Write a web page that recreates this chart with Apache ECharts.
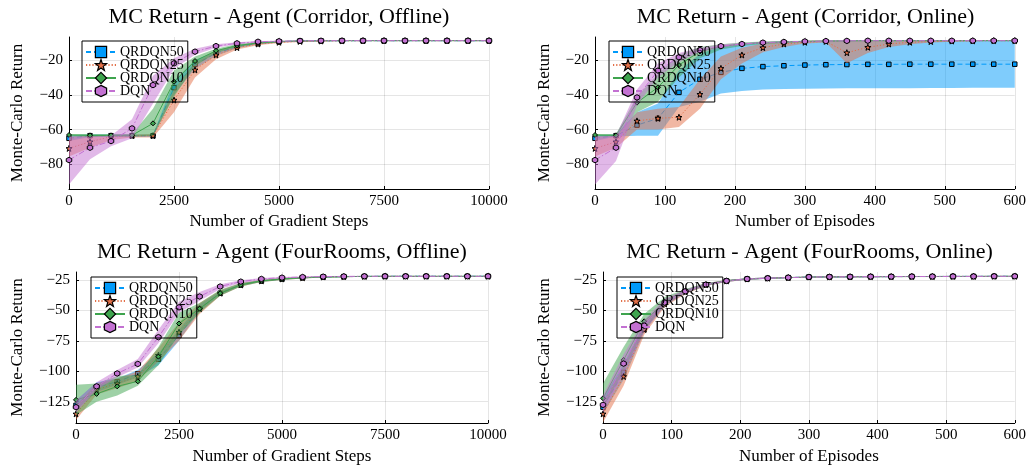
<!DOCTYPE html>
<html>
<head>
<meta charset="utf-8">
<script src="https://cdn.jsdelivr.net/npm/echarts@6/dist/echarts.min.js"></script>
<style>html,body{margin:0;padding:0;background:#fff}#c{width:1029px;height:466px}</style>
</head>
<body>
<div id="c"></div>
<script>
// ---------------- DATA ----------------
const seriesNames = ['QRDQN50', 'QRDQN25', 'QRDQN10', 'DQN'];
const titles = ['MC Return - Agent (Corridor, Offline)', 'MC Return - Agent (Corridor, Online)',
                'MC Return - Agent (FourRooms, Offline)', 'MC Return - Agent (FourRooms, Online)'];
const xNames = ['Number of Gradient Steps', 'Number of Episodes', 'Number of Gradient Steps', 'Number of Episodes'];
const yName = 'Monte-Carlo Return';

const steps = [0,500,1000,1500,2000,2500,3000,3500,4000,4500,5000,5500,6000,6500,7000,7500,8000,8500,9000,9500,10000];
const episodes = [0,30,60,90,120,150,180,210,240,270,300,330,360,390,420,450,480,510,540,570,600];
const corridorYTicks = [-80, -60, -40, -20];
const fourRoomsYTicks = [-125, -100, -75, -50, -25];

// Corridor, Offline
const corOff_q50    = [-65.0,-63.5,-63.5,-63.5,-63.5,-35.9,-22.5,-16.2,-12.3,-10.5,-9.5,-9.1,-9.0,-8.9,-8.9,-8.9,-8.9,-8.9,-8.9,-8.9,-8.9];
const corOff_q50_lo = [-66.5,-64.3,-64.2,-64.2,-64.3,-40.0,-25.0,-17.5,-13.2,-11.0,-9.9,-9.4,-9.2,-9.1,-9.0,-9.0,-9.0,-9.0,-9.0,-9.0,-9.0];
const corOff_q50_hi = [-63.2,-62.8,-62.8,-62.8,-62.8,-32.0,-20.0,-15.0,-11.5,-10.0,-9.2,-8.9,-8.8,-8.7,-8.7,-8.7,-8.7,-8.7,-8.7,-8.7,-8.7];
const corOff_q25    = [-70.8,-67.0,-64.0,-63.5,-63.5,-43.0,-25.7,-17.1,-12.9,-10.8,-9.8,-9.3,-9.1,-9.0,-8.9,-8.9,-8.9,-8.9,-8.9,-8.9,-8.9];
const corOff_q25_lo = [-75.5,-70.5,-66.0,-64.5,-64.5,-50.0,-30.0,-19.5,-14.0,-11.5,-10.3,-9.6,-9.3,-9.1,-9.0,-9.0,-9.0,-9.0,-9.0,-9.0,-9.0];
const corOff_q25_hi = [-64.0,-63.5,-63.0,-62.8,-62.5,-37.0,-21.5,-14.5,-11.5,-9.9,-9.3,-9.0,-8.8,-8.7,-8.7,-8.7,-8.7,-8.7,-8.7,-8.7,-8.7];
const corOff_q10    = [-63.1,-63.3,-63.3,-63.3,-56.4,-32.5,-20.6,-14.7,-11.7,-10.2,-9.4,-9.0,-8.9,-8.9,-8.9,-8.9,-8.9,-8.9,-8.9,-8.9,-8.9];
const corOff_q10_lo = [-64.0,-64.0,-64.0,-64.0,-63.5,-41.0,-23.5,-16.0,-12.5,-10.7,-9.7,-9.2,-9.0,-8.9,-8.9,-8.9,-8.9,-8.9,-8.9,-8.9,-8.9];
const corOff_q10_hi = [-62.5,-62.5,-62.5,-62.5,-48.0,-26.0,-18.0,-13.5,-10.8,-9.7,-9.1,-8.8,-8.7,-8.7,-8.7,-8.7,-8.7,-8.7,-8.7,-8.7,-8.7];
const corOff_dqn    = [-77.5,-70.4,-66.6,-59.3,-34.4,-21.9,-15.2,-12.0,-10.4,-9.5,-9.2,-9.0,-8.9,-8.9,-8.9,-8.9,-8.9,-8.9,-8.9,-8.9,-8.9];
const corOff_dqn_lo = [-91.5,-77.0,-69.5,-65.0,-45.0,-25.0,-17.0,-13.0,-11.0,-9.9,-9.5,-9.2,-9.0,-8.9,-8.9,-8.9,-8.9,-8.9,-8.9,-8.9,-8.9];
const corOff_dqn_hi = [-64.0,-64.0,-63.5,-54.0,-29.0,-19.0,-13.5,-11.0,-9.8,-9.1,-8.9,-8.8,-8.7,-8.7,-8.7,-8.7,-8.7,-8.7,-8.7,-8.7,-8.7];

// Corridor, Online
const corOn_q50    = [-65.0,-63.5,-57.4,-53.6,-38.6,-31.1,-27.1,-24.8,-23.8,-23.3,-22.9,-22.7,-22.6,-22.5,-22.5,-22.4,-22.4,-22.4,-22.4,-22.4,-22.4];
const corOn_q50_lo = [-66.5,-64.0,-63.5,-63.5,-47.0,-44.0,-39.2,-37.8,-37.0,-36.7,-36.5,-36.4,-36.3,-36.3,-36.2,-36.2,-36.1,-36.1,-36.0,-36.0,-36.0];
const corOn_q50_hi = [-63.2,-62.8,-50.0,-45.0,-26.0,-16.5,-12.0,-10.5,-9.8,-9.3,-9.0,-8.9,-8.8,-8.8,-8.7,-8.7,-8.7,-8.7,-8.7,-8.7,-8.7];
const corOn_q25    = [-70.8,-67.0,-55.0,-53.5,-52.9,-39.7,-24.8,-17.1,-12.9,-10.8,-9.8,-9.3,-15.8,-12.7,-10.8,-9.8,-9.4,-9.1,-9.0,-8.9,-8.9];
const corOn_q25_lo = [-75.5,-70.5,-60.0,-60.0,-58.5,-48.0,-31.0,-22.0,-15.5,-12.5,-10.5,-10.0,-21.8,-16.0,-12.5,-11.0,-10.0,-9.5,-9.2,-9.0,-9.0];
const corOn_q25_hi = [-64.0,-63.5,-50.0,-48.0,-47.0,-31.0,-18.0,-13.0,-10.5,-9.5,-9.0,-8.8,-9.0,-9.0,-9.0,-8.9,-8.8,-8.7,-8.7,-8.7,-8.7];
const corOn_q10    = [-63.1,-63.3,-44.5,-35.7,-22.9,-15.1,-12.2,-10.8,-10.0,-9.6,-9.3,-9.1,-9.0,-8.9,-8.9,-8.9,-8.9,-8.9,-8.9,-8.9,-8.9];
const corOn_q10_lo = [-64.0,-64.0,-50.0,-44.0,-30.0,-19.0,-14.0,-12.0,-10.8,-10.2,-9.7,-9.4,-9.2,-9.0,-9.0,-9.0,-9.0,-9.0,-9.0,-9.0,-9.0];
const corOn_q10_hi = [-62.5,-62.5,-41.0,-28.0,-17.0,-12.5,-11.0,-10.0,-9.4,-9.1,-8.9,-8.8,-8.7,-8.7,-8.7,-8.7,-8.7,-8.7,-8.7,-8.7,-8.7];
const corOn_dqn    = [-77.5,-70.4,-41.5,-26.1,-18.4,-14.3,-12.0,-10.8,-10.0,-9.6,-9.3,-9.1,-9.0,-8.9,-8.9,-8.9,-8.9,-8.9,-8.9,-8.9,-8.9];
const corOn_dqn_lo = [-91.5,-78.0,-46.0,-30.0,-21.0,-15.5,-13.0,-11.3,-10.4,-9.9,-9.5,-9.3,-9.1,-9.0,-9.0,-9.0,-9.0,-9.0,-9.0,-9.0,-9.0];
const corOn_dqn_hi = [-64.0,-63.5,-37.0,-22.0,-16.0,-13.0,-11.0,-10.3,-9.6,-9.3,-9.1,-8.9,-8.8,-8.8,-8.8,-8.8,-8.8,-8.8,-8.8,-8.8,-8.8];

// FourRooms, Offline
const frOff_q50    = [-128.0,-113.0,-108.6,-102.1,-90.1,-70.6,-48.6,-35.9,-29.1,-25.8,-24.2,-23.2,-22.6,-22.3,-22.1,-22.0,-22.0,-22.0,-22.0,-22.0,-22.0];
const frOff_q50_lo = [-132.0,-117.0,-111.0,-105.0,-95.0,-75.0,-51.0,-37.5,-30.0,-26.5,-24.8,-23.7,-23.0,-22.6,-22.4,-22.3,-22.3,-22.3,-22.3,-22.3,-22.3];
const frOff_q50_hi = [-124.0,-109.0,-106.0,-99.0,-85.0,-66.0,-45.0,-34.0,-28.0,-25.0,-23.6,-22.7,-22.2,-21.9,-21.8,-21.7,-21.7,-21.7,-21.7,-21.7,-21.7];
const frOff_q25    = [-135.0,-115.0,-110.0,-104.3,-86.9,-67.9,-48.6,-35.9,-29.1,-25.8,-24.2,-23.2,-22.6,-22.3,-22.1,-22.0,-22.0,-22.0,-22.0,-22.0,-22.0];
const frOff_q25_lo = [-140.0,-119.0,-114.0,-108.0,-92.0,-75.0,-53.0,-38.0,-30.5,-26.8,-25.0,-23.8,-23.1,-22.7,-22.4,-22.3,-22.3,-22.3,-22.3,-22.3,-22.3];
const frOff_q25_hi = [-128.0,-110.0,-106.0,-100.0,-81.0,-60.0,-44.0,-33.5,-27.5,-24.8,-23.5,-22.6,-22.1,-21.9,-21.8,-21.7,-21.7,-21.7,-21.7,-21.7,-21.7];
const frOff_q10    = [-123.5,-118.6,-112.4,-108.3,-88.0,-60.8,-48.6,-35.9,-29.1,-25.8,-24.2,-23.2,-22.6,-22.3,-22.1,-22.0,-22.0,-22.0,-22.0,-22.0,-22.0];
const frOff_q10_lo = [-136.0,-125.0,-120.0,-112.0,-95.0,-70.0,-52.0,-38.0,-30.5,-26.8,-25.0,-23.8,-23.1,-22.7,-22.4,-22.3,-22.3,-22.3,-22.3,-22.3,-22.3];
const frOff_q10_hi = [-111.0,-110.0,-104.0,-103.0,-80.0,-52.0,-44.0,-33.0,-27.5,-25.0,-23.5,-22.6,-22.1,-21.9,-21.8,-21.7,-21.7,-21.7,-21.7,-21.7,-21.7];
const frOff_dqn    = [-129.5,-112.4,-101.8,-94.0,-72.0,-47.5,-38.6,-30.4,-26.4,-24.2,-23.1,-22.6,-22.3,-22.1,-22.0,-22.0,-22.0,-22.0,-22.0,-22.0,-22.0];
const frOff_dqn_lo = [-134.0,-115.0,-105.0,-97.0,-77.0,-52.0,-42.0,-32.5,-27.5,-25.0,-23.7,-23.0,-22.6,-22.3,-22.2,-22.2,-22.2,-22.2,-22.2,-22.2,-22.2];
const frOff_dqn_hi = [-124.0,-109.0,-99.0,-90.0,-66.0,-43.0,-35.0,-28.5,-25.3,-23.4,-22.5,-22.2,-22.0,-21.9,-21.8,-21.8,-21.8,-21.8,-21.8,-21.8,-21.8];

// FourRooms, Online
const frOn_q50    = [-129.5,-101.0,-65.7,-44.0,-34.5,-28.9,-25.8,-24.2,-23.6,-23.1,-22.6,-22.5,-22.4,-22.3,-22.3,-22.2,-22.2,-22.1,-22.1,-22.0,-22.0];
const frOn_q50_lo = [-135.0,-107.0,-68.0,-46.0,-35.5,-29.8,-26.5,-24.8,-24.1,-23.5,-23.0,-22.9,-22.8,-22.7,-22.6,-22.5,-22.5,-22.4,-22.4,-22.3,-22.3];
const frOn_q50_hi = [-122.0,-94.0,-61.0,-41.5,-33.0,-28.0,-25.2,-23.7,-23.1,-22.7,-22.3,-22.2,-22.1,-22.0,-21.9,-21.9,-21.9,-21.8,-21.8,-21.7,-21.7];
const frOn_q25    = [-135.0,-104.3,-65.7,-44.8,-34.8,-29.0,-25.8,-24.2,-23.6,-23.1,-22.6,-22.5,-22.4,-22.3,-22.3,-22.2,-22.2,-22.1,-22.1,-22.0,-22.0];
const frOn_q25_lo = [-142.0,-112.0,-70.0,-47.0,-36.5,-30.0,-26.6,-24.9,-24.1,-23.5,-23.0,-22.9,-22.8,-22.7,-22.6,-22.5,-22.5,-22.4,-22.4,-22.3,-22.3];
const frOn_q25_hi = [-125.0,-96.0,-60.0,-41.0,-33.0,-27.8,-25.1,-23.7,-23.1,-22.7,-22.3,-22.2,-22.1,-22.0,-21.9,-21.9,-21.9,-21.8,-21.8,-21.7,-21.7];
const frOn_q10    = [-122.2,-90.7,-59.0,-43.0,-34.2,-28.7,-25.7,-24.2,-23.6,-23.1,-22.6,-22.5,-22.4,-22.3,-22.3,-22.2,-22.2,-22.1,-22.1,-22.0,-22.0];
const frOn_q10_lo = [-130.0,-100.0,-66.0,-46.0,-36.0,-30.0,-26.5,-24.8,-24.1,-23.5,-23.0,-22.9,-22.8,-22.7,-22.6,-22.5,-22.5,-22.4,-22.4,-22.3,-22.3];
const frOn_q10_hi = [-110.0,-80.0,-53.0,-39.0,-32.5,-27.5,-25.0,-23.7,-23.1,-22.7,-22.3,-22.2,-22.1,-22.0,-21.9,-21.9,-21.9,-21.8,-21.8,-21.7,-21.7];
const frOn_dqn    = [-127.6,-93.7,-62.5,-43.6,-34.3,-28.8,-25.8,-24.2,-23.6,-23.1,-22.6,-22.5,-22.4,-22.3,-22.3,-22.2,-22.2,-22.1,-22.1,-22.0,-22.0];
const frOn_dqn_lo = [-134.0,-102.0,-67.0,-46.0,-36.0,-29.8,-26.5,-24.8,-24.1,-23.5,-23.0,-22.9,-22.8,-22.7,-22.6,-22.5,-22.5,-22.4,-22.4,-22.3,-22.3];
const frOn_dqn_hi = [-120.0,-86.0,-58.0,-40.5,-33.0,-27.8,-25.2,-23.7,-23.1,-22.7,-22.3,-22.2,-22.1,-22.0,-21.9,-21.9,-21.9,-21.8,-21.8,-21.7,-21.7];

// ---------------- CHART ----------------
const FONT = 'Liberation Serif';
const colors = ['#009AFA', '#E36F47', '#3EA44E', '#C371D2'];
const STAR = 'path://M0,-10L2.35,-3.24L9.51,-3.09L3.8,1.24L5.88,8.09L0,4L-5.88,8.09L-3.8,1.24L-9.51,-3.09L-2.35,-3.24Z';
const HEX = 'path://M0,-10L8.66,-5L8.66,5L0,10L-8.66,5L-8.66,-5Z';
const symbols = ['rect', STAR, 'diamond', HEX];
const symSizes = [4.5, 6, 5, 5.5];
const dashes = [[5, 3], [1.2, 2], 'solid', [6, 2, 1.5, 2]];

const panels = [
  { xs: steps, xmax: 10000, xint: 2500, ymin: -94.14, ymax: -6.78, yticks: corridorYTicks,
    sets: [[corOff_q50, corOff_q50_lo, corOff_q50_hi], [corOff_q25, corOff_q25_lo, corOff_q25_hi],
           [corOff_q10, corOff_q10_lo, corOff_q10_hi], [corOff_dqn, corOff_dqn_lo, corOff_dqn_hi]] },
  { xs: episodes, xmax: 600, xint: 100, ymin: -94.14, ymax: -6.78, yticks: corridorYTicks,
    sets: [[corOn_q50, corOn_q50_lo, corOn_q50_hi], [corOn_q25, corOn_q25_lo, corOn_q25_hi],
           [corOn_q10, corOn_q10_lo, corOn_q10_hi], [corOn_dqn, corOn_dqn_lo, corOn_dqn_hi]] },
  { xs: steps, xmax: 10000, xint: 2500, ymin: -142.5, ymax: -18.49, yticks: fourRoomsYTicks,
    sets: [[frOff_q50, frOff_q50_lo, frOff_q50_hi], [frOff_q25, frOff_q25_lo, frOff_q25_hi],
           [frOff_q10, frOff_q10_lo, frOff_q10_hi], [frOff_dqn, frOff_dqn_lo, frOff_dqn_hi]] },
  { xs: episodes, xmax: 600, xint: 100, ymin: -142.5, ymax: -18.49, yticks: fourRoomsYTicks,
    sets: [[frOn_q50, frOn_q50_lo, frOn_q50_hi], [frOn_q25, frOn_q25_lo, frOn_q25_hi],
           [frOn_q10, frOn_q10_lo, frOn_q10_hi], [frOn_dqn, frOn_dqn_lo, frOn_dqn_hi]] }
];

const layout = [
  { left: 69, top: 37, width: 420, height: 152, yGap: 42.5, xGap: 24, legend: [82, 41] },
  { left: 595, top: 37, width: 421, height: 152, yGap: 41.5, xGap: 24, legend: [609, 41] },
  { left: 76, top: 272, width: 412, height: 152, yGap: 49.5, xGap: 25, legend: [91, 277] },
  { left: 603, top: 272, width: 413, height: 152, yGap: 49.5, xGap: 25, legend: [617, 277] }
];

function rgba(hex, a) {
  const n = parseInt(hex.slice(1), 16);
  return 'rgba(' + ((n >> 16) & 255) + ',' + ((n >> 8) & 255) + ',' + (n & 255) + ',' + a + ')';
}
function fmtMinus(v) { return v < 0 ? '\u2212' + Math.abs(v) : String(v); }

const grids = [], xAxes = [], yAxes = [], series = [], legends = [], titleList = [];
panels.forEach((p, gi) => {
  const L = layout[gi];
  grids.push({ left: L.left, top: L.top, width: L.width, height: L.height, containLabel: false });
  xAxes.push({
    type: 'value', gridIndex: gi, min: 0, max: p.xmax, interval: p.xint,
    name: xNames[gi], nameLocation: 'middle', nameGap: L.xGap,
    nameTextStyle: { fontFamily: FONT, fontSize: 17, color: '#000' },
    axisLine: { show: true, onZero: false, lineStyle: { color: '#000', width: 1 } },
    axisTick: { show: true, inside: true, length: 3, lineStyle: { color: '#000' } },
    axisLabel: { fontFamily: FONT, fontSize: 15, color: '#000', margin: 5, formatter: v => String(v) },
    splitLine: { show: true, lineStyle: { color: 'rgba(0,0,0,0.1)', width: 1 } }
  });
  yAxes.push({
    type: 'value', gridIndex: gi, min: p.ymin, max: p.ymax,
    name: yName, nameLocation: 'middle', nameGap: L.yGap, nameRotate: 90,
    nameTextStyle: { fontFamily: FONT, fontSize: 17, color: '#000' },
    axisLine: { show: true, onZero: false, lineStyle: { color: '#000', width: 1 } },
    axisTick: { show: true, inside: true, length: 3, customValues: p.yticks, lineStyle: { color: '#000' } },
    axisLabel: { fontFamily: FONT, fontSize: 15, color: '#000', margin: 6, customValues: p.yticks, formatter: fmtMinus },
    splitLine: { show: true, lineStyle: { color: 'rgba(0,0,0,0.1)', width: 1 } }
  });
  titleList.push({
    text: titles[gi], left: L.left + L.width / 2, top: gi < 2 ? 6 : 241, textAlign: 'center', padding: 0,
    textStyle: { fontFamily: FONT, fontSize: 22, fontWeight: 'normal', color: '#000' }
  });
  p.sets.forEach((set, k) => {
    const mean = set[0], lo = set[1], hi = set[2], xs = p.xs;
    series.push({
      type: 'custom', name: 'band' + gi + '_' + k, coordinateSystem: 'cartesian2d',
      xAxisIndex: gi, yAxisIndex: gi, z: 10 + 2 * k, silent: true, animation: false,
      data: xs.map((x, i) => [x, lo[i], hi[i]]),
      encode: { x: 0, y: [1, 2] },
      renderItem: function (params, api) {
        if (params.dataIndex !== 0) return null;
        const pts = [];
        for (let i = 0; i < xs.length; i++) pts.push(api.coord([xs[i], hi[i]]));
        for (let i = xs.length - 1; i >= 0; i--) pts.push(api.coord([xs[i], lo[i]]));
        return { type: 'polygon', shape: { points: pts }, style: { fill: rgba(colors[k], 0.5), stroke: null } };
      }
    });
    series.push({
      type: 'line', name: seriesNames[k], xAxisIndex: gi, yAxisIndex: gi, z: 11 + 2 * k,
      data: xs.map((x, i) => [x, mean[i]]),
      symbol: symbols[k], symbolSize: symSizes[k], showSymbol: true,
      itemStyle: { color: colors[k], borderColor: '#000', borderWidth: 1 },
      lineStyle: { color: colors[k], width: 1, type: dashes[k] },
      emphasis: { disabled: true }, animation: false
    });
  });
  legends.push({
    data: seriesNames, orient: 'vertical', left: L.legend[0], top: L.legend[1],
    padding: [4, 4, 4, 3], itemWidth: 30, itemHeight: 14, itemGap: -1,
    borderColor: '#000', borderWidth: 1, backgroundColor: 'transparent', z: 100,
    selectedMode: false,
    itemStyle: { borderColor: '#000', borderWidth: 1.2 },
    textStyle: { fontFamily: FONT, fontSize: 14, color: '#000', padding: [0, 0, 0, -1] }
  });
});

const chart = echarts.init(document.getElementById('c'), null, { renderer: 'canvas' });
chart.setOption({
  backgroundColor: '#fff', animation: false,
  textStyle: { fontFamily: FONT },
  title: titleList, grid: grids, xAxis: xAxes, yAxis: yAxes, legend: legends, series: series
});
</script>
</body>
</html>
